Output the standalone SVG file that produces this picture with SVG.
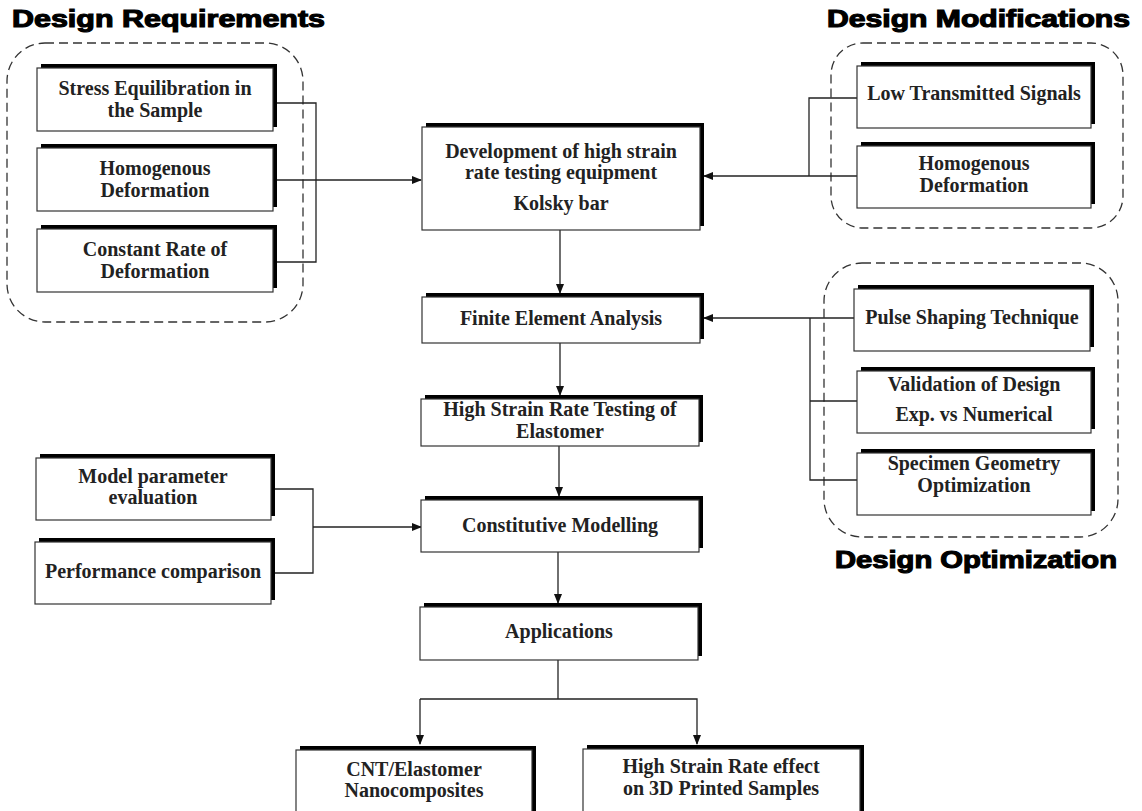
<svg xmlns="http://www.w3.org/2000/svg" width="1142" height="811" viewBox="0 0 1142 811">
<style>
.sh{fill:#000}
.bx{fill:#fff;stroke:#333;stroke-width:1.2}
.t{font-family:"Liberation Serif","Times New Roman",serif;font-weight:bold;font-size:20px;fill:#222;text-anchor:middle}
.h{font-family:"Liberation Sans",Arial,sans-serif;font-weight:bold;font-size:23px;fill:#000;stroke:#000;stroke-width:1.1}
.grp{fill:none;stroke:#333;stroke-width:1.3;stroke-dasharray:9 5}
.c{fill:none;stroke:#222;stroke-width:1.3}
</style>
<defs>
<marker id="ar" markerWidth="10" markerHeight="8" refX="9" refY="4" orient="auto" markerUnits="userSpaceOnUse">
<path d="M0,0 L10,4 L0,8 Z" fill="#111"/>
</marker>
</defs>
<rect width="1142" height="811" fill="#fff"/>

<g id="titles">
<text class="h" x="12" y="27" textLength="313" lengthAdjust="spacingAndGlyphs">Design Requirements</text>
<text class="h" x="827" y="27" textLength="303" lengthAdjust="spacingAndGlyphs">Design Modifications</text>
<text class="h" x="835" y="568" textLength="282" lengthAdjust="spacingAndGlyphs">Design Optimization</text>
</g>

<g id="groups">
<rect id="grp-requirements" class="grp" x="7" y="43" width="296" height="279" rx="38"/>
<rect id="grp-modifications" class="grp" x="831" y="43" width="292" height="185" rx="32"/>
<rect id="grp-optimization" class="grp" x="824" y="263" width="294" height="274" rx="38"/>
</g>

<g id="connectors">
<path class="c" d="M273,103 H316 V262 H273"/>
<path class="c" d="M273,180 H421" marker-end="url(#ar)"/>
<path class="c" d="M857,98 H809 V176"/>
<path class="c" d="M857,176 H704" marker-end="url(#ar)"/>
<path class="c" d="M560,230 V293" marker-end="url(#ar)"/>
<path class="c" d="M854,318 H704" marker-end="url(#ar)"/>
<path class="c" d="M810,318 V480 H857"/>
<path class="c" d="M810,401 H857"/>
<path class="c" d="M560,343 V395" marker-end="url(#ar)"/>
<path class="c" d="M559,446 V496" marker-end="url(#ar)"/>
<path class="c" d="M271,489 H313 V573 H271"/>
<path class="c" d="M313,527 H421" marker-end="url(#ar)"/>
<path class="c" d="M558,552 V603" marker-end="url(#ar)"/>
<path class="c" d="M558,660 V699"/>
<path class="c" d="M420,699 V744" marker-end="url(#ar)"/>
<path class="c" d="M420,699 H697 V744" marker-end="url(#ar)"/>
</g>

<g id="n-stress"><rect class="sh" x="41" y="64" width="236" height="63"/><rect class="bx" x="37" y="68" width="236" height="63"/>
<text class="t" x="155" y="95">Stress Equilibration in</text><text class="t" x="155" y="117">the Sample</text></g>
<g id="n-homog-left"><rect class="sh" x="41" y="144" width="236" height="63"/><rect class="bx" x="37" y="148" width="236" height="63"/>
<text class="t" x="155" y="175">Homogenous</text><text class="t" x="155" y="197">Deformation</text></g>
<g id="n-constant"><rect class="sh" x="41" y="225" width="236" height="63"/><rect class="bx" x="37" y="229" width="236" height="63"/>
<text class="t" x="155" y="256">Constant Rate of</text><text class="t" x="155" y="278">Deformation</text></g>

<g id="n-development"><rect class="sh" x="426" y="123" width="278" height="103"/><rect class="bx" x="422" y="127" width="278" height="103"/>
<text class="t" x="561" y="158">Development of high strain</text><text class="t" x="561" y="179">rate testing equipment</text><text class="t" x="561" y="210">Kolsky bar</text></g>
<g id="n-fea"><rect class="sh" x="426" y="293" width="278" height="46"/><rect class="bx" x="422" y="297" width="278" height="46"/>
<text class="t" x="561" y="325">Finite Element Analysis</text></g>
<g id="n-hsr-testing"><rect class="sh" x="425" y="395" width="278" height="47"/><rect class="bx" x="421" y="399" width="278" height="47"/>
<text class="t" x="560" y="416">High Strain Rate Testing of</text><text class="t" x="560" y="438">Elastomer</text></g>
<g id="n-constitutive"><rect class="sh" x="425" y="496" width="278" height="52"/><rect class="bx" x="421" y="500" width="278" height="52"/>
<text class="t" x="560" y="532">Constitutive Modelling</text></g>
<g id="n-applications"><rect class="sh" x="424" y="603" width="278" height="53"/><rect class="bx" x="420" y="607" width="278" height="53"/>
<text class="t" x="559" y="638">Applications</text></g>

<g id="n-model"><rect class="sh" x="40" y="454" width="235" height="62"/><rect class="bx" x="36" y="458" width="235" height="62"/>
<text class="t" x="153" y="483">Model parameter</text><text class="t" x="153" y="504">evaluation</text></g>
<g id="n-performance"><rect class="sh" x="39" y="538" width="236" height="62"/><rect class="bx" x="35" y="542" width="236" height="62"/>
<text class="t" x="153" y="578">Performance comparison</text></g>

<g id="n-cnt"><rect class="sh" x="300" y="746" width="236" height="66"/><rect class="bx" x="296" y="750" width="236" height="66"/>
<text class="t" x="414" y="776">CNT/Elastomer</text><text class="t" x="414" y="797">Nanocomposites</text></g>
<g id="n-3d"><rect class="sh" x="587" y="745" width="277" height="66"/><rect class="bx" x="583" y="749" width="277" height="66"/>
<text class="t" x="721" y="773">High Strain Rate effect</text><text class="t" x="721" y="795">on 3D Printed Samples</text></g>

<g id="n-low-signals"><rect class="sh" x="861" y="62" width="234" height="62"/><rect class="bx" x="857" y="66" width="234" height="62"/>
<text class="t" x="974" y="100">Low Transmitted Signals</text></g>
<g id="n-homog-right"><rect class="sh" x="861" y="142" width="234" height="62"/><rect class="bx" x="857" y="146" width="234" height="62"/>
<text class="t" x="974" y="170">Homogenous</text><text class="t" x="974" y="192">Deformation</text></g>

<g id="n-pulse"><rect class="sh" x="858" y="285" width="236" height="62"/><rect class="bx" x="854" y="289" width="236" height="62"/>
<text class="t" x="972" y="324">Pulse Shaping Technique</text></g>
<g id="n-validation"><rect class="sh" x="861" y="367" width="234" height="62"/><rect class="bx" x="857" y="371" width="234" height="62"/>
<text class="t" x="974" y="391">Validation of Design</text><text class="t" x="974" y="421">Exp. vs Numerical</text></g>
<g id="n-specimen"><rect class="sh" x="861" y="449" width="234" height="62"/><rect class="bx" x="857" y="453" width="234" height="62"/>
<text class="t" x="974" y="470">Specimen Geometry</text><text class="t" x="974" y="492">Optimization</text></g>
</svg>
